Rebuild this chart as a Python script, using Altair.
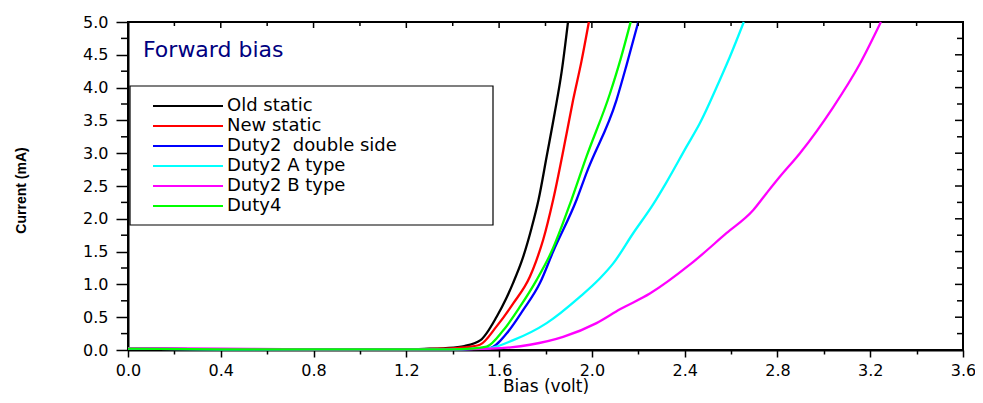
import altair as alt
import pandas as pd

# ---- data ----
series_names = ["Old static", "New static", "Duty2\u00a0 double side",
                "Duty2 A type", "Duty2 B type", "Duty4"]
series_colors = ["#000000", "#FF0000", "#0000FF", "#00FFFF", "#FF00FF", "#00FF00"]

old_v = [0, 0.4, 0.8, 1.2, 1.3, 1.37, 1.45, 1.52, 1.59, 1.63, 1.66, 1.70, 1.74, 1.77, 1.805, 1.84, 1.87, 1.897]
old_i = [0.02, 0.01, 0.01, 0.01, 0.02, 0.03, 0.06, 0.15, 0.51, 0.78, 1.02, 1.38, 1.86, 2.29, 2.95, 3.62, 4.25, 5.0]

new_v = [0, 0.4, 0.8, 1.2, 1.35, 1.45, 1.517, 1.589, 1.661, 1.733, 1.76, 1.79, 1.833, 1.891, 1.919, 1.955, 1.987]
new_i = [0.02, 0.01, 0.01, 0.01, 0.02, 0.04, 0.08, 0.36, 0.71, 1.12, 1.36, 1.68, 2.29, 3.30, 3.81, 4.4, 5.0]

ds_v = [0, 0.4, 0.8, 1.2, 1.4, 1.5, 1.56, 1.632, 1.704, 1.776, 1.833, 1.934, 1.977, 2.106, 2.15, 2.2]
ds_i = [0.02, 0.01, 0.01, 0.01, 0.01, 0.02, 0.03, 0.25, 0.61, 1.02, 1.50, 2.29, 2.70, 3.81, 4.35, 5.0]

a_v = [0, 0.4, 0.8, 1.2, 1.4, 1.5, 1.56, 1.661, 1.805, 1.948, 2.034, 2.092, 2.178, 2.264, 2.322,
       2.408, 2.466, 2.552, 2.595, 2.655]
a_i = [0.02, 0.01, 0.01, 0.01, 0.01, 0.02, 0.03, 0.15, 0.41, 0.81, 1.09, 1.32, 1.78, 2.22, 2.56,
       3.10, 3.46, 4.12, 4.47, 5.0]

b_v = [0, 0.4, 0.8, 1.2, 1.4, 1.56, 1.65, 1.733, 1.876, 2.02, 2.121, 2.25, 2.422, 2.58, 2.695,
       2.753, 2.81, 2.897, 3.04, 3.155, 3.246]
b_i = [0.03, 0.02, 0.01, 0.01, 0.01, 0.02, 0.04, 0.08, 0.20, 0.41, 0.62, 0.86, 1.30, 1.78, 2.13,
       2.39, 2.64, 3.0, 3.7, 4.36, 5.0]

d4_v = [0, 0.4, 0.8, 1.2, 1.4, 1.48, 1.546, 1.618, 1.69, 1.762, 1.826, 1.912, 1.977, 2.078, 2.125, 2.167]
d4_i = [0.02, 0.01, 0.01, 0.01, 0.01, 0.02, 0.05, 0.30, 0.66, 1.07, 1.50, 2.29, 2.95, 3.91, 4.45, 5.0]

x_ticks = [0.0, 0.2, 0.4, 0.6, 0.8, 1.0, 1.2, 1.4, 1.6, 1.8, 2.0, 2.2, 2.4, 2.6, 2.8, 3.0, 3.2, 3.4, 3.6]
x_major = [0.0, 0.4, 0.8, 1.2, 1.6, 2.0, 2.4, 2.8, 3.2, 3.6]
x_minor = [0.2, 0.6, 1.0, 1.4, 1.8, 2.2, 2.6, 3.0, 3.4]
y_major = [0.0, 0.5, 1.0, 1.5, 2.0, 2.5, 3.0, 3.5, 4.0, 4.5, 5.0]
y_minor = [0.25, 0.75, 1.25, 1.75, 2.25, 2.75, 3.25, 3.75, 4.25, 4.75]

annotation = ["Forward bias"]

# ---- build tables ----
rows = []
for name, vs, cs in zip(series_names,
                        [old_v, new_v, ds_v, a_v, b_v, d4_v],
                        [old_i, new_i, ds_i, a_i, b_i, d4_i]):
    for k, (v, c) in enumerate(zip(vs, cs)):
        rows.append({"series": name, "V": v, "I": c, "k": k})
df = pd.DataFrame(rows)

W, H = 835, 328
FONT = "DejaVu Sans"

xscale = alt.Scale(domain=[0, 3.6], nice=False, zero=False)
yscale = alt.Scale(domain=[0, 5], nice=False, zero=False)

x_axis = alt.Axis(
    values=x_ticks, title="Bias (volt)", grid=False,
    labelExpr="round(datum.value*10) % 4 == 0 ? format(datum.value, '.1f') : ''",
    tickSize={"condition": {"test": "round(datum.value*10) % 4 == 0", "value": 7}, "value": 4},
    tickWidth=1.5, tickColor="black", domainColor="black", domainWidth=2,
    labelFont=FONT, labelFontSize=16, labelColor="black", labelPadding=5,
    labelFlush=False, labelOverlap=False,
    titleFont=FONT, titleFontSize=17, titleFontWeight="normal", titleColor="black",
    titleY=41, titleBaseline="alphabetic",
)
y_axis = alt.Axis(
    values=y_major, title="Current (mA)", grid=False,
    labelExpr="format(datum.value, '.1f')", tickSize=12,
    tickWidth=1.5, tickColor="black", domainColor="black", domainWidth=2,
    labelFont=FONT, labelFontSize=16, labelColor="black", labelPadding=8,
    labelFlush=False, labelOverlap=False, labelSeparation=0,
    titleFont="Liberation Sans", titleFontSize=14, titleFontWeight="bold", titleColor="black",
    titleX=-100, titleY=168,
)

lines = alt.Chart(df).mark_line(strokeWidth=2.3, interpolate="monotone").encode(
    x=alt.X("V:Q", scale=xscale, axis=x_axis),
    y=alt.Y("I:Q", scale=yscale, axis=y_axis),
    color=alt.Color(
        "series:N",
        scale=alt.Scale(domain=series_names, range=series_colors),
        sort=series_names,
        legend=alt.Legend(
            title=None, orient="none", legendX=22, legendY=75,
            symbolType="M-7,0L7,0", symbolSize=100, symbolStrokeWidth=2,
            symbolOffset=29, labelOffset=30, labelFont=FONT, labelFontSize=18,
            labelColor="black", rowPadding=2, padding=0, labelLimit=400,
        ),
    ),
    order="k:Q",
)

legend_box = alt.Chart(pd.DataFrame({"a": [0]})).mark_rect(
    filled=False, stroke="black", strokeWidth=1.2
).encode(
    x=alt.value(2), x2=alt.value(365), y=alt.value(64), y2=alt.value(203)
)

label = alt.Chart(pd.DataFrame({"t": annotation})).mark_text(
    align="left", baseline="middle", font=FONT, fontSize=22, color="#000080"
).encode(text="t:N", x=alt.value(15), y=alt.value(28))

def xrule(vals, y0, y1):
    return alt.Chart(pd.DataFrame({"V": vals})).mark_rule(color="black", strokeWidth=1.5).encode(
        x=alt.X("V:Q", scale=xscale, axis=x_axis),
        y=alt.value(y0), y2=alt.value(y1),
    )

def yrule(vals, x0, x1):
    return alt.Chart(pd.DataFrame({"I": vals})).mark_rule(color="black", strokeWidth=1.5).encode(
        y=alt.Y("I:Q", scale=yscale, axis=y_axis),
        x=alt.value(x0), x2=alt.value(x1),
    )

chart = alt.layer(
    legend_box, lines, label,
    xrule(x_major, 0, 6), xrule(x_minor, 0, 4),
    yrule(y_major, W - 8, W), yrule(y_minor, W - 6, W),
    yrule(y_minor, -7, 0),
).properties(
    width=W, height=H,
    autosize=alt.AutoSizeParams(type="none"),
    padding={"left": 120, "top": 14, "right": 12, "bottom": 45},
).configure(
    font=FONT, background="white"
).configure_axis(
    labelOverlap=False
).configure_view(
    stroke="black", strokeWidth=2
)

chart.save("out.html", embed_options={"renderer": "svg", "actions": False})
